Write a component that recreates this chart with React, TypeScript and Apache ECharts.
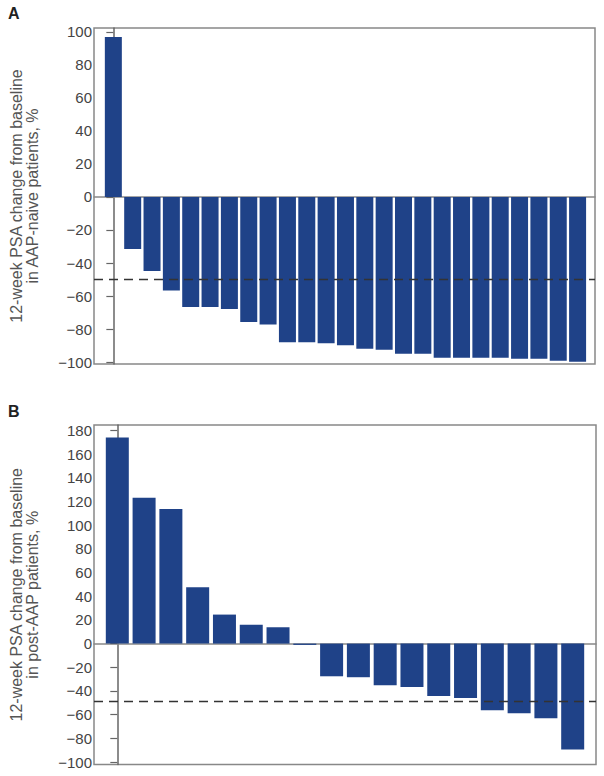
import React, { useEffect, useRef } from "react";
import * as echarts from "echarts";

const naiveValues = [97, -31.5, -44.8, -56.6, -66.7, -66.7, -67.9, -75.7, -77.3, -88, -88, -88.6, -89.8, -92, -92.6, -95, -95, -97.4, -97.4, -97.4, -97.4, -98, -98, -99.2, -99.8];
const postValues = [174, 123.2, 113.6, 47.5, 24.5, 16, 13.8, -1.1, -27.6, -28.4, -35.2, -36.6, -44.2, -45.9, -56.3, -58.8, -63, -89.5];
const naiveTicks = [-100, -80, -60, -40, -20, 0, 20, 40, 60, 80, 100];
const postTicks = [-100, -80, -60, -40, -20, 0, 20, 40, 60, 80, 100, 120, 140, 160, 180];
const naiveThreshold = -50;
const postThreshold = -48.5;
const naiveTitle = "12-week PSA change from baseline\nin AAP-naive patients, %";
const postTitle = "12-week PSA change from baseline\nin post-AAP patients, %";

const BAR = "#1f4288";
const FONT = "Liberation Sans, Arial, sans-serif";

export default function App() {
  const ref = useRef<HTMLDivElement>(null);
  useEffect(() => {
    const chart = echarts.init(ref.current!, undefined, { renderer: "svg" });
    const yAxisBase = (ticks: number[], min: number, max: number, name: string, gridIndex: number) => ({
      type: "value",
      gridIndex,
      min,
      max,
      name,
      nameLocation: "middle",
      nameRotate: 90,
      nameGap: 54,
      nameTextStyle: { fontFamily: FONT, fontSize: 16, color: "#555", lineHeight: 16 },
      axisLine: { show: true, lineStyle: { color: "#666", width: 1.5 } },
      axisTick: { show: true, customValues: ticks, length: 7, lineStyle: { color: "#666", width: 1.2 } },
      axisLabel: {
        customValues: ticks,
        margin: 2,
        fontFamily: FONT,
        fontSize: 15,
        color: "#444",
        formatter: (v: number) => (v < 0 ? "\u2212" + Math.abs(v) : String(v)),
      },
      splitLine: { show: false },
    });
    const xAxisBase = (min: number, max: number, gridIndex: number) => ({
      type: "value",
      gridIndex,
      min,
      max,
      axisLine: { show: true, onZero: true, lineStyle: { color: "#888", width: 1.5 } },
      axisTick: { show: false },
      axisLabel: { show: false },
      splitLine: { show: false },
    });
    const markLine = (v: number) => ({
      silent: true,
      symbol: "none",
      label: { show: false },
      lineStyle: { color: "#333", type: [9, 6], width: 1.4 },
      data: [{ yAxis: v }],
    });
    chart.setOption({
      animation: false,
      graphic: [
        { type: "text", left: 8, top: 5, style: { text: "A", font: `bold 16px ${FONT}`, fill: "#222" } },
        { type: "text", left: 8, top: 403, style: { text: "B", font: `bold 16px ${FONT}`, fill: "#222" } },
      ],
      grid: [
        { left: 94, width: 501, top: 28, height: 336, show: true, borderColor: "#888", borderWidth: 1.5 },
        { left: 94, width: 502, top: 425, height: 339.5, show: true, borderColor: "#888", borderWidth: 1.5 },
      ],
      xAxis: [xAxisBase(-1, 24.9, 0), xAxisBase(-0.87, 17.87, 1)],
      yAxis: [
        yAxisBase(naiveTicks, -101.2, 102.4, naiveTitle, 0),
        yAxisBase(postTicks, -102.1, 184.6, postTitle, 1),
      ],
      series: [
        {
          type: "bar",
          xAxisIndex: 0,
          yAxisIndex: 0,
          barWidth: 17,
          itemStyle: { color: BAR },
          data: naiveValues.map((v, i) => [i, v]),
          markLine: markLine(naiveThreshold),
        },
        {
          type: "bar",
          xAxisIndex: 1,
          yAxisIndex: 1,
          barWidth: 23,
          itemStyle: { color: BAR },
          data: postValues.map((v, i) => [i, v]),
          markLine: markLine(postThreshold),
        },
      ],
    });
    return () => chart.dispose();
  }, []);
  return <div ref={ref} style={{ position: "fixed", left: 0, top: 0, width: 604, height: 776, background: "#fff" }} />;
}
